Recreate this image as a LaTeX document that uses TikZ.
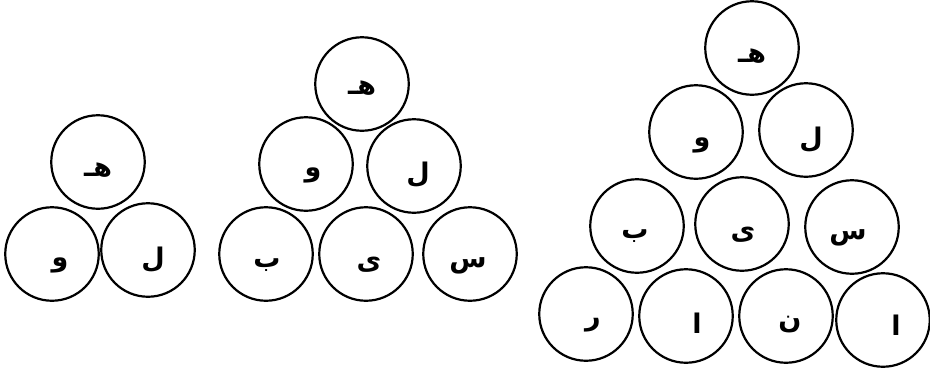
\documentclass[tikz,border=0pt]{standalone}
\usepackage{fontspec}
\newfontfamily\arabicfont[Script=Arabic]{DejaVu Sans}
\TeXXeTstate=1
\tikzset{
  ball/.style={circle, draw=black, line width=2.2pt, minimum size=93.5pt, inner sep=0pt},
  harf/.style={font=\arabicfont\bfseries\fontsize{27}{29}\selectfont, inner sep=0pt, yshift=-3pt},
}
\newcommand{\arword}[1]{\beginR #1\endR}

\begin{document}
\begin{tikzpicture}[x=1pt, y=-1pt]
  \useasboundingbox (0,0) rectangle (930,370);
  % small pyramid: three balls
  \foreach \nm/\cx/\cy/\tx/\ty/\t in {
      sa/98/162/98/167/هـ, sb/52/254/60/262/و, sc/148/250/153/257/ل}{
    \node[ball] (\nm) at (\cx,\cy) {};
    \node[harf] (\nm t) at (\tx,\ty) {\arword{\t}};
  }
  % middle pyramid: six balls
  \foreach \nm/\cx/\cy/\tx/\ty/\t in {
      ma/362/84/362/85/هـ,
      mb/306/164/313/172/و, mc/414/166/418/172/ل,
      md/266/254/267/262/ب, me/366/254/369/262/ی, mf/470/254/468/263/س}{
    \node[ball] (\nm) at (\cx,\cy) {};
    \node[harf] (\nm t) at (\tx,\ty) {\arword{\t}};
  }
  % big pyramid: ten balls
  \foreach \nm/\cx/\cy/\tx/\ty/\t in {
      ba/752/48/752/53/هـ,
      bb/696/132/702/142/و, bc/806/130/811/137/ل,
      bd/637/226/635/233/ب, be/742/224/743/232/ی, bf/852/227/848/235/س,
      bg/586/314/593/322/ر, bh/686/316/697/320/ا, bi/786/316/790/322/ن, bj/883/320/896/322/ا}{
    \node[ball] (\nm) at (\cx,\cy) {};
    \node[harf] (\nm t) at (\tx,\ty) {\arword{\t}};
  }
\end{tikzpicture}
\end{document}
